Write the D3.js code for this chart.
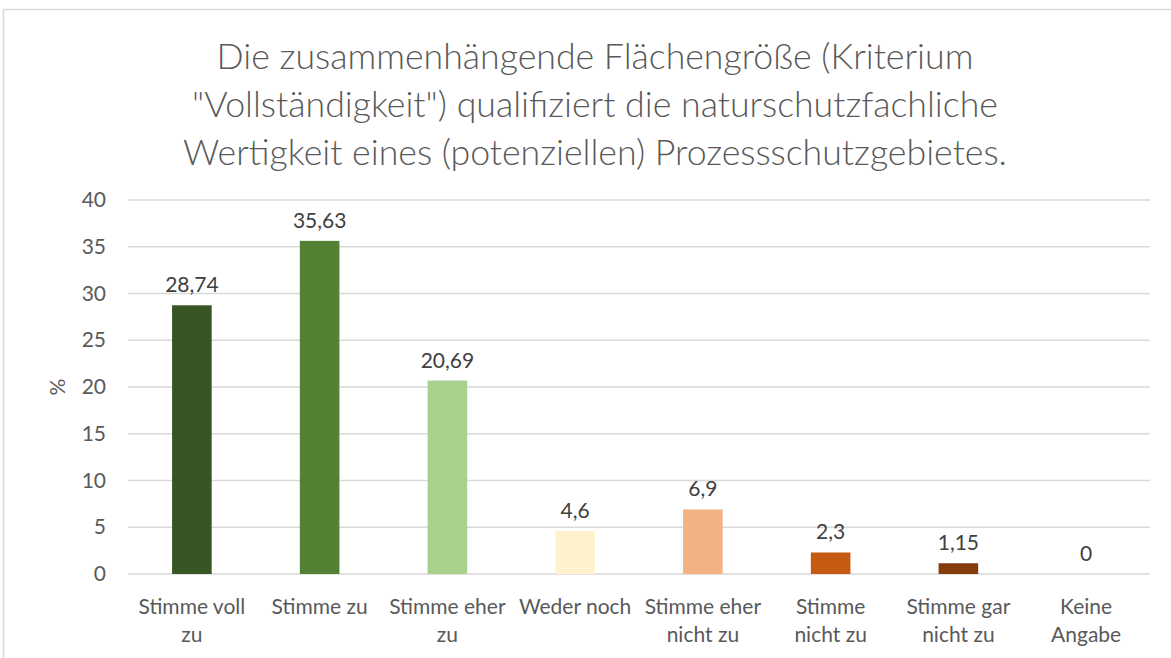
<!DOCTYPE html>
<html>
<head>
<meta charset="utf-8">
<script src="https://cdn.jsdelivr.net/npm/d3@7"></script>
<style>
  body { margin: 0; background: #fff; }
  text { font-family: Lato, "Open Sans", sans-serif; }
</style>
</head>
<body>
<div id="chart"></div>
<script>
// données
var categories = [
    ["Stimme voll", "zu"],
    ["Stimme zu"],
    ["Stimme eher", "zu"],
    ["Weder noch"],
    ["Stimme eher", "nicht zu"],
    ["Stimme", "nicht zu"],
    ["Stimme gar", "nicht zu"],
    ["Keine", "Angabe"]
];
var values = [28.74, 35.63, 20.69, 4.6, 6.9, 2.3, 1.15, 0];
var valueLabels = ["28,74", "35,63", "20,69", "4,6", "6,9", "2,3", "1,15", "0"];
var colors = ["#375623", "#548235", "#a9d18e", "#fff2cc", "#f4b183", "#c55a11", "#843c0c", "#843c0c"];
var yTicks = [0, 5, 10, 15, 20, 25, 30, 35, 40];
var titleLines = [
    "Die zusammenhängende Flächengröße (Kriterium",
    "\"Vollständigkeit\") qualifiziert die naturschutzfachliche",
    "Wertigkeit eines (potenziellen) Prozessschutzgebietes."
];

var width = 1171,
    height = 658;

var svg = d3.select("#chart")
    .append("svg")
    .attr("width", width)
    .attr("height", height);

// cadre du graphique
svg.append("rect")
    .attr("x", 3.5)
    .attr("y", 9.5)
    .attr("width", 1200)
    .attr("height", 700)
    .attr("fill", "none")
    .attr("stroke", "#d9d9d9")
    .attr("stroke-width", 1.5);

// titre
svg.append("g").selectAll("text")
    .data(titleLines)
    .join("text")
    .attr("x", 595)
    .attr("y", function (d, i) { return 69 + i * 48; })
    .attr("text-anchor", "middle")
    .attr("fill", "#595959")
    .style("font-size", "35.7px")
    .style("font-weight", 300)
    .text(function (d) { return d; });

var x = d3.scaleBand()
    .domain(d3.range(categories.length))
    .range([128, 1150])
    .paddingInner(0.69)
    .paddingOuter(0.345);

var y = d3.scaleLinear()
    .domain([0, 40])
    .range([574, 200]);

// grille
svg.append("g").selectAll("line")
    .data(yTicks)
    .join("line")
    .attr("x1", 128)
    .attr("x2", 1150)
    .attr("y1", function (d) { return y(d); })
    .attr("y2", function (d) { return y(d); })
    .attr("stroke", "#d9d9d9")
    .attr("stroke-width", 1.5);

// axe y (juste les libellés)
var yAxis = svg.append("g")
    .attr("transform", "translate(106,0)")
    .call(d3.axisLeft(y).tickValues(yTicks).tickSize(0).tickPadding(0));
yAxis.select(".domain").remove();
yAxis.selectAll("text")
    .attr("fill", "#595959")
    .style("font-size", "21px")
    .style("font-family", "Lato, 'Open Sans', sans-serif");

svg.append("text")
    .attr("transform", "translate(65,387) rotate(-90)")
    .attr("text-anchor", "middle")
    .attr("fill", "#595959")
    .style("font-size", "21px")
    .text("%");

// barres
svg.append("g").selectAll("rect")
    .data(values)
    .join("rect")
    .attr("x", function (d, i) { return x(i); })
    .attr("width", x.bandwidth())
    .attr("y", function (d) { return y(d); })
    .attr("height", function (d) { return y(0) - y(d); })
    .attr("fill", function (d, i) { return colors[i]; });

// étiquettes de valeurs
svg.append("g").selectAll("text")
    .data(values)
    .join("text")
    .attr("x", function (d, i) { return x(i) + x.bandwidth() / 2; })
    .attr("y", function (d) { return y(d) - 13; })
    .attr("text-anchor", "middle")
    .attr("fill", "#404040")
    .style("font-size", "21px")
    .text(function (d, i) { return valueLabels[i]; });

// catégories sur deux lignes
var cat = svg.append("g").selectAll("text")
    .data(categories)
    .join("text")
    .attr("text-anchor", "middle")
    .attr("fill", "#595959")
    .style("font-size", "21px");

cat.selectAll("tspan")
    .data(function (d, i) { return d.map(function (t) { return { t: t, i: i }; }); })
    .join("tspan")
    .attr("x", function (d) { return x(d.i) + x.bandwidth() / 2; })
    .attr("y", function (d, j) { return 614 + j * 28; })
    .text(function (d) { return d.t; });
</script>
</body>
</html>
